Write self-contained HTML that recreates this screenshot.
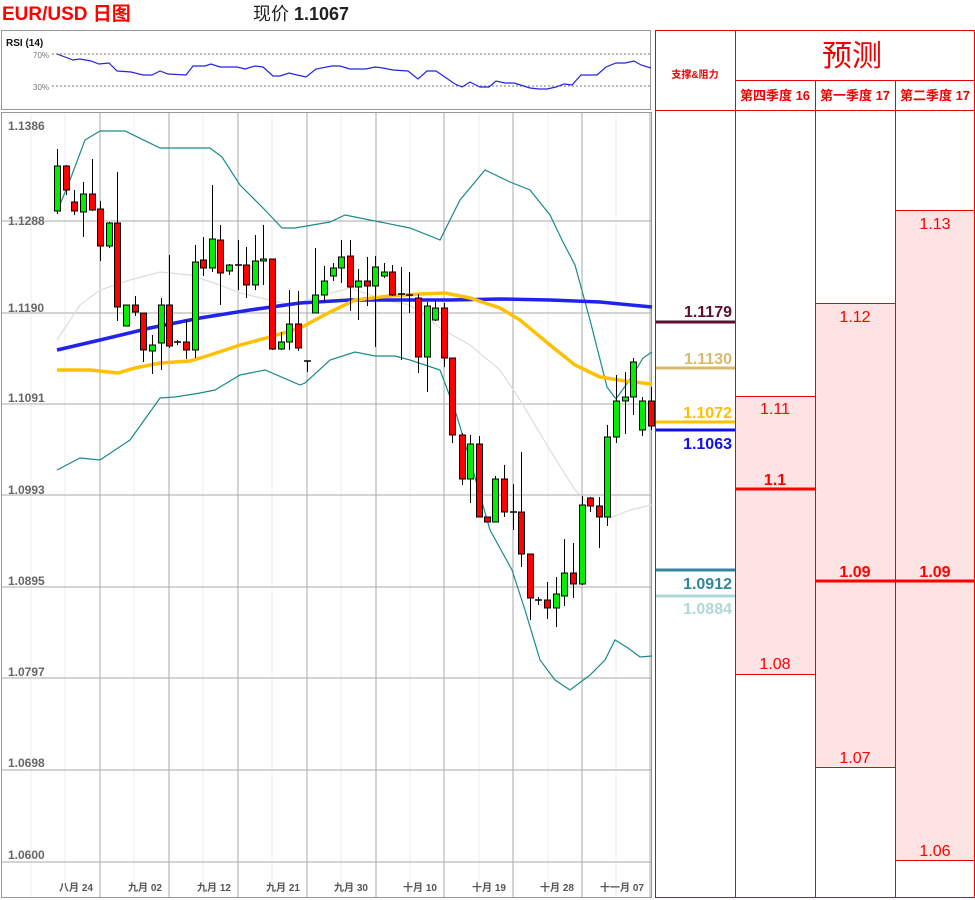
<!DOCTYPE html>
<html><head><meta charset="utf-8"><style>
body{margin:0;background:#fff;width:975px;height:900px;overflow:hidden}
svg{display:block}
text{font-family:"Liberation Sans","Noto Sans CJK SC",sans-serif}
</style></head><body>
<svg width="975" height="900" viewBox="0 0 975 900" xmlns="http://www.w3.org/2000/svg">
<text x="2" y="20" font-size="19" font-weight="bold" fill="#f00">EUR/USD 日图</text>
<text x="253" y="20" font-size="18" fill="#222">现价 <tspan font-weight="bold">1.1067</tspan></text>
<!-- RSI -->
<rect x="1.5" y="30.5" width="649" height="79" fill="#fff" stroke="#999"/>
<text x="6" y="46" font-size="10" font-weight="bold" fill="#111">RSI (14)</text>
<text x="33" y="58" font-size="8" fill="#777">70%</text>
<text x="33" y="90" font-size="8" fill="#777">30%</text>
<line x1="52" y1="54" x2="650" y2="54" stroke="#777" stroke-dasharray="2,2"/>
<line x1="52" y1="86" x2="650" y2="86" stroke="#777" stroke-dasharray="2,2"/>
<polyline fill="none" stroke="#2323e6" stroke-width="1.2" points="57,54 73,60 80,59 91,61 99,64 109,63 117,71 131,72 143,75 152,75 160,71 168,74 186,75 193,66 205,66 211,64 220,67 237,67 245,69 255,66 263,67 273,76 280,76 289,73 297,75 306,77 316,69 332,66 340,66 350,69 366,69 375,67 383,68 393,70 408,71 418,79 427,71 436,71 455,84 462,87 470,82 480,87 489,87 496,81 505,83 514,83 530,88 539,89 547,89 556,87 564,84 572,85 581,75 597,75 606,67 616,63 625,63 634,61 641,65 651,68"/>
<!-- main chart -->
<rect x="1.5" y="112.5" width="650" height="785" fill="#fff" stroke="#999"/>
<g stroke="#eee">
<line x1="31" y1="113" x2="31" y2="897"/><line x1="65" y1="113" x2="65" y2="897"/><line x1="134" y1="113" x2="134" y2="897"/><line x1="203" y1="113" x2="203" y2="897"/><line x1="272" y1="113" x2="272" y2="897"/><line x1="341" y1="113" x2="341" y2="897"/><line x1="410" y1="113" x2="410" y2="897"/><line x1="479" y1="113" x2="479" y2="897"/><line x1="548" y1="113" x2="548" y2="897"/><line x1="616" y1="113" x2="616" y2="897"/>
</g>
<g stroke="#aaa">
<line x1="100" y1="113" x2="100" y2="897"/><line x1="169" y1="113" x2="169" y2="897"/><line x1="238" y1="113" x2="238" y2="897"/><line x1="307" y1="113" x2="307" y2="897"/><line x1="376" y1="113" x2="376" y2="897"/><line x1="444" y1="113" x2="444" y2="897"/><line x1="513" y1="113" x2="513" y2="897"/><line x1="582" y1="113" x2="582" y2="897"/><line x1="650" y1="113" x2="650" y2="897"/>
<line x1="2" y1="221" x2="651" y2="221"/><line x1="2" y1="313" x2="651" y2="313"/><line x1="2" y1="404" x2="651" y2="404"/><line x1="2" y1="495" x2="651" y2="495"/><line x1="2" y1="587" x2="651" y2="587"/><line x1="2" y1="678" x2="651" y2="678"/><line x1="2" y1="770" x2="651" y2="770"/><line x1="2" y1="862" x2="651" y2="862"/>
</g>
<g font-size="12" font-weight="bold" fill="#666">
<text x="8" y="130">1.1386</text><text x="8" y="312">1.1190</text><text x="8" y="225">1.1288</text><text x="8" y="402">1.1091</text><text x="8" y="494">1.0993</text><text x="8" y="585">1.0895</text><text x="8" y="676">1.0797</text><text x="8" y="767">1.0698</text><text x="8" y="859">1.0600</text>
</g>
<g font-size="10" font-weight="bold" fill="#555" text-anchor="middle">
<text x="76" y="891">八月 24</text><text x="145" y="891">九月 02</text><text x="214" y="891">九月 12</text><text x="283" y="891">九月 21</text><text x="351" y="891">九月 30</text><text x="420" y="891">十月 10</text><text x="489" y="891">十月 19</text><text x="557" y="891">十月 28</text><text x="622" y="891">十一月 07</text>
</g>
<!-- bands & MAs -->
<polyline fill="none" stroke="#ddd" stroke-width="1.2" points="57,340 80,305 100,290 130,280 160,272 190,275 220,285 240,293 270,300 290,305 320,296 350,288 385,300 410,305 440,328 470,345 500,370 520,400 550,450 575,490 590,505 610,518 630,510 652,505"/>
<polyline fill="none" stroke="#1a8a8a" stroke-width="1.2" points="57,212 70,180 85,140 100,131 125,131 160,148 210,148 222,157 240,185 265,210 282,228 295,228 330,222 345,215 380,222 410,228 440,240 460,200 485,170 510,182 530,190 550,215 562,240 575,265 590,320 607,387 616,399 633,375 643,358 652,352"/>
<polyline fill="none" stroke="#1a8a8a" stroke-width="1.2" points="57,470 80,458 100,460 130,440 160,398 175,397 200,393 215,390 240,375 265,370 300,385 305,383 330,360 355,352 375,356 395,356 410,360 440,370 455,410 470,460 490,530 512,570 525,610 540,660 555,680 570,690 590,675 605,660 615,640 628,648 640,657 652,656"/>
<polyline fill="none" stroke="#2222ee" stroke-width="3.5" points="57,350 100,340 150,328 200,318 250,310 300,303 350,300 400,300 450,300 500,299 550,300 600,302 652,307"/>
<polyline fill="none" stroke="#ffc000" stroke-width="3.5" points="57,370 90,370 118,373 135,368 160,363 190,361 210,355 240,345 270,337 300,328 330,312 355,300 390,296 420,294 445,293 470,298 500,308 520,320 550,345 575,365 600,377 625,381 652,384"/>
<g id="c" stroke="#000" stroke-width="1"></g>
<!-- table -->
<rect x="655.5" y="30.5" width="319" height="867" fill="#fff" stroke="#e00"/>
<rect x="736" y="397" width="79" height="277" fill="#fde3e3"/>
<rect x="816" y="304" width="79" height="463" fill="#fde3e3"/>
<rect x="896" y="211" width="78" height="649" fill="#fde3e3"/>
<g stroke="#e00" stroke-width="1">
<line x1="735.5" y1="30" x2="735.5" y2="898"/><line x1="815.5" y1="80" x2="815.5" y2="898"/><line x1="895.5" y1="80" x2="895.5" y2="898"/>
<line x1="735" y1="80.5" x2="975" y2="80.5"/><line x1="655" y1="110.5" x2="975" y2="110.5"/>
<line x1="735" y1="396.5" x2="815" y2="396.5"/><line x1="735" y1="674.5" x2="815" y2="674.5"/>
<line x1="815" y1="303.5" x2="895" y2="303.5"/><line x1="815" y1="767.5" x2="895" y2="767.5"/>
<line x1="895" y1="210.5" x2="975" y2="210.5"/><line x1="895" y1="860.5" x2="975" y2="860.5"/>
</g>
<g stroke="#f00" stroke-width="3"><line x1="735" y1="489" x2="815" y2="489"/><line x1="815" y1="581" x2="975" y2="581"/></g>
<text x="695" y="78" font-size="10" font-weight="bold" fill="#e00" text-anchor="middle">支撑&amp;阻力</text>
<text x="852" y="66" font-size="30" fill="#e00" text-anchor="middle" font-family="Noto Serif CJK SC, serif">预测</text>
<g font-size="13" font-weight="bold" fill="#e00" text-anchor="middle">
<text x="775" y="100">第四季度 16</text><text x="855" y="100">第一季度 17</text><text x="935" y="100">第二季度 17</text>
</g>
<g font-size="16" fill="#f00" text-anchor="middle">
<text x="775" y="414">1.11</text><text x="775" y="669">1.08</text><text x="855" y="322">1.12</text><text x="855" y="763">1.07</text><text x="935" y="229">1.13</text><text x="935" y="856">1.06</text>
<text x="775" y="485" font-weight="bold">1.1</text><text x="855" y="577" font-weight="bold">1.09</text><text x="935" y="577" font-weight="bold">1.09</text>
</g>
<g stroke-width="3">
<line x1="656" y1="322" x2="735" y2="322" stroke="#5a0f2e"/>
<line x1="656" y1="368" x2="735" y2="368" stroke="#dcb96a"/>
<line x1="656" y1="422" x2="735" y2="422" stroke="#ffc000"/>
<line x1="656" y1="430" x2="735" y2="430" stroke="#1010ee"/>
<line x1="656" y1="570" x2="735" y2="570" stroke="#31859c"/>
<line x1="656" y1="596" x2="735" y2="596" stroke="#b0d8d8"/>
</g>
<g font-size="16" font-weight="bold" text-anchor="end">
<text x="732" y="317" fill="#5a0f2e">1.1179</text>
<text x="732" y="364" fill="#dcb96a">1.1130</text>
<text x="732" y="418" fill="#ffc000">1.1072</text>
<text x="732" y="449" fill="#1010ee">1.1063</text>
<text x="732" y="589" fill="#31859c">1.0912</text>
<text x="732" y="614" fill="#b0d8d8">1.0884</text>
</g>
</svg>
<script>
var d=[[57,'G',166,211,149,214],[66,'R',166,190,165,195],[74,'R',202,211,190,215],[83,'G',194,212,182,237],[92,'R',194,210,159,211],[100,'R',209,246,201,261],[109,'G',223,246,222,248],[117,'R',223,307,172,321],[126,'G',305,326,305,326],[135,'R',305,312,296,316],[143,'R',313,350,313,362],[152,'G',345,351,335,374],[161,'G',305,343,298,370],[169,'R',305,346,255,348],[177,'D',342,343,340,345],[186,'R',342,350,320,359],[195,'G',262,350,245,358],[203,'R',260,268,237,276],[212,'G',239,268,185,272],[220,'R',240,273,225,305],[229,'G',265,271,264,275],[238,'D',265,265,240,290],[246,'R',265,285,247,298],[255,'G',261,285,235,290],[263,'G',259,261,225,285],[272,'R',259,349,259,350],[281,'G',342,349,332,350],[289,'G',324,342,290,350],[298,'R',324,348,291,351],[307,'D',361,361,361,372],[315,'G',295,313,248,313],[324,'G',281,295,266,302],[333,'G',268,276,263,281],[341,'G',257,268,240,283],[350,'R',256,287,240,311],[358,'G',281,287,269,320],[367,'R',281,286,257,306],[375,'G',267,286,256,347],[384,'G',272,276,263,278],[392,'R',272,295,265,296],[401,'D',294,294,267,360],[409,'D',295,295,272,313],[418,'R',298,357,294,373],[427,'G',306,357,302,392],[435,'G',308,320,300,321],[444,'R',308,358,303,367],[452,'R',358,435,358,443],[462,'R',435,479,433,485],[470,'G',444,479,435,503],[479,'R',444,517,436,517],[487,'R',517,522,517,522],[495,'G',479,522,476,522],[504,'R',479,512,465,517],[513,'D',512,512,484,530],[521,'R',512,554,452,567],[530,'R',554,598,554,620],[538,'D',600,600,597,605],[547,'R',600,608,582,619],[556,'G',594,608,577,627],[564,'G',573,596,539,606],[573,'R',573,584,543,598],[582,'G',505,584,496,585],[590,'R',498,506,497,512],[599,'R',506,517,497,548],[607,'G',437,517,425,526],[616,'G',401,437,375,443],[625,'G',397,401,372,434],[633,'G',362,397,358,415],[642,'G',401,430,397,436],[651,'R',401,426,387,430]];
var g=document.getElementById('c'),ns='http://www.w3.org/2000/svg',h='';
d.forEach(function(c){var x=c[0];h+='<line x1="'+(x+.5)+'" y1="'+c[4]+'" x2="'+(x+.5)+'" y2="'+c[5]+'"/>';
if(c[1]=='D'){h+='<line x1="'+(x-3)+'" y1="'+c[2]+'" x2="'+(x+4)+'" y2="'+c[2]+'" stroke-width="1.5"/>';}
else{h+='<rect x="'+(x-2.5)+'" y="'+c[2]+'" width="6" height="'+Math.max(2,c[3]-c[2])+'" fill="'+(c[1]=='G'?'#00ee00':'#ff0000')+'"/>';}});
g.innerHTML=h;
</script>
</body></html>
